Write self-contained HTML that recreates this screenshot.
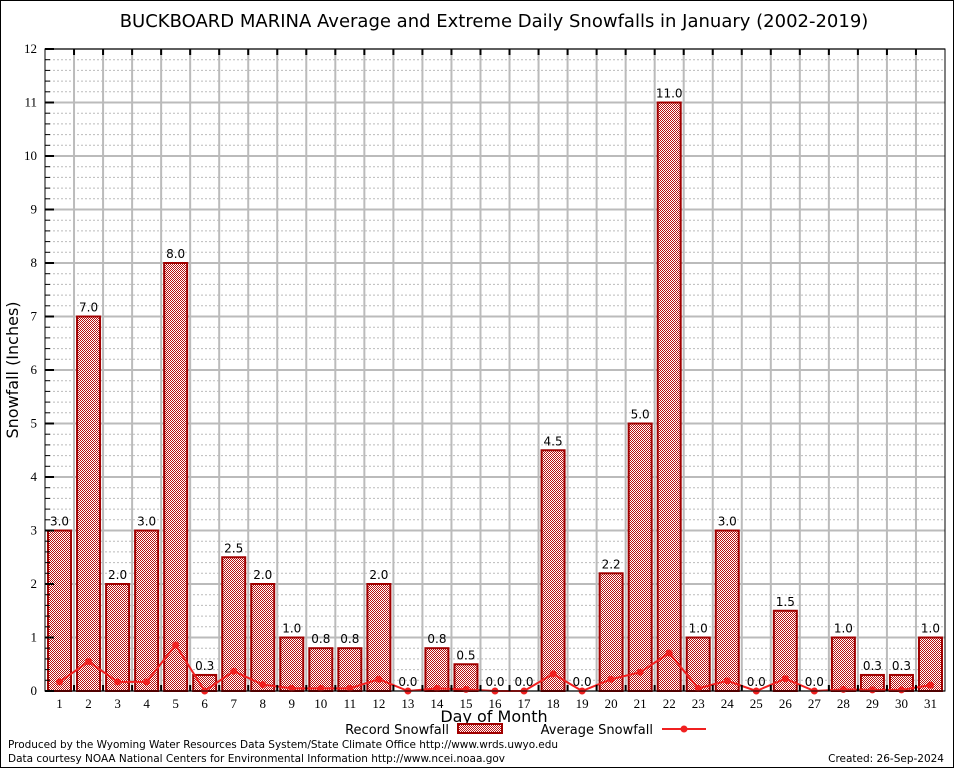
<!DOCTYPE html>
<html><head><meta charset="utf-8"><style>
html,body{margin:0;padding:0;background:#fff}
svg{display:block}
text{font-family:"DejaVu Sans","Liberation Sans",sans-serif}
.ser{font-family:"Liberation Serif","DejaVu Serif",serif}
</style></head><body>
<svg id="chart" width="954" height="768" viewBox="0 0 954 768">
<defs>
<pattern id="chk" width="2" height="2" patternUnits="userSpaceOnUse">
<rect width="2" height="2" fill="#fff"/><rect width="1" height="1" fill="#b81010"/><rect x="1" y="1" width="1" height="1" fill="#b81010"/>
</pattern>
</defs>
<rect x="0.5" y="0.5" width="953" height="767" fill="#fff" stroke="#000"/>
<text x="494" y="27" font-size="18" text-anchor="middle">BUCKBOARD MARINA Average and Extreme Daily Snowfalls in January (2002-2019)</text>
<g id="grid"></g>
<g id="bars"></g>
<g id="line"></g>
<rect x="45" y="49" width="900" height="642" fill="none" stroke="#000" stroke-width="1"/>
<g id="axes"></g>
<text x="18" y="370" font-size="16" text-anchor="middle" transform="rotate(-90 18 370)">Snowfall (Inches)</text>
<text x="494" y="722" font-size="16" text-anchor="middle">Day of Month</text>
<g>
<text x="449" y="734" font-size="13" text-anchor="end">Record Snowfall</text>
<rect x="458" y="724" width="44" height="9" fill="url(#chk)" stroke="#a00000" stroke-width="2"/>
</g>
<g>
<text x="653" y="734" font-size="13" text-anchor="end">Average Snowfall</text>
<line x1="662" y1="729" x2="706" y2="729" stroke="#f02020" stroke-width="2"/>
<circle cx="684" cy="729" r="3.5" fill="#f02020"/>
</g>
<text x="8" y="748" font-size="10.5" textLength="550">Produced by the Wyoming Water Resources Data System/State Climate Office http://www.wrds.uwyo.edu</text>
<text x="8" y="762" font-size="10.5" textLength="497">Data courtesy NOAA National Centers for Environmental Information http://www.ncei.noaa.gov</text>
<text x="944" y="762" font-size="10.5" text-anchor="end">Created: 26-Sep-2024</text>
</svg>
<script>
const days = [1,2,3,4,5,6,7,8,9,10,11,12,13,14,15,16,17,18,19,20,21,22,23,24,25,26,27,28,29,30,31];
const recordSnow = [3.0,7.0,2.0,3.0,8.0,0.3,2.5,2.0,1.0,0.8,0.8,2.0,0.0,0.8,0.5,0.0,0.0,4.5,0.0,2.2,5.0,11.0,1.0,3.0,0.0,1.5,0.0,1.0,0.3,0.3,1.0];
const avgSnow = [0.17,0.55,0.17,0.17,0.86,0.0,0.37,0.12,0.05,0.05,0.05,0.22,0.0,0.05,0.03,0.0,0.0,0.32,0.0,0.22,0.35,0.71,0.05,0.19,0.0,0.23,0.0,0.03,0.02,0.02,0.11];
const yTicks = [0,1,2,3,4,5,6,7,8,9,10,11,12];
const L=45,R=945,T=49,B=691,yMax=12;
const bw=(R-L)/days.length;
const xs=d=>L+(d-0.5)*bw;
const ys=v=>B-v/yMax*(B-T);
const NS='http://www.w3.org/2000/svg';
function mk(tag,attrs,parent,txt){const e=document.createElementNS(NS,tag);for(const k in attrs)e.setAttribute(k,attrs[k]);if(txt!==undefined)e.textContent=txt;parent.appendChild(e);return e;}
const grid=document.getElementById('grid'),bars=document.getElementById('bars'),line=document.getElementById('line'),axes=document.getElementById('axes');
for(let v=0.2;v<yMax;v+=0.2){const y=ys(v);if(Math.abs(v-Math.round(v))<0.01)continue;
const g=mk('line',{x1:L,x2:R,y1:y,y2:y,stroke:'#bbb','stroke-width':1,'stroke-dasharray':'2,2'},grid);


const t=mk('line',{x1:L,x2:L+5,y1:y,y2:y,stroke:'#000'},axes);

}
yTicks.forEach(v=>{const y=ys(v);
const g=mk('line',{x1:L,x2:R,y1:y,y2:y,stroke:'#bbb','stroke-width':2},grid);


const t=mk('line',{x1:L,x2:L+9,y1:y,y2:y,stroke:'#000','stroke-width':2},axes);


const lb=mk('text',{x:37,y:y+4,'font-size':13,'text-anchor':'end',class:'ser'},axes,String(v));

});
for(let i=1;i<days.length;i++){const x=L+i*bw;
const g=mk('line',{x1:x,x2:x,y1:T,y2:B,stroke:'#bbb','stroke-width':2},grid);


const t1=mk('line',{x1:x,x2:x,y1:T,y2:T+6,stroke:'#000','stroke-width':2},axes);


const t2=mk('line',{x1:x,x2:x,y1:B,y2:B-6,stroke:'#000','stroke-width':2},axes);

}
days.forEach((d,i)=>{const v=recordSnow[i],x=xs(d),y=ys(v);
if(v>0){const r=mk('rect',{x:x-11.5,y:y,width:23,height:B-y,fill:'url(#chk)',stroke:'#a00000','stroke-width':2},bars);

}
const lb=mk('text',{x:x,y:y-5,'font-size':12,'text-anchor':'middle'},bars,v.toFixed(1));


const xl=mk('text',{x:x,y:708,'font-size':13,'text-anchor':'middle',class:'ser'},axes,String(d));

});
const pts=days.map((d,i)=>xs(d)+','+ys(avgSnow[i])).join(' ');
const pl=mk('polyline',{points:pts,fill:'none',stroke:'#f02020','stroke-width':2},line);


days.forEach((d,i)=>{const c=mk('circle',{cx:xs(d),cy:ys(avgSnow[i]),r:3.5,fill:'#f02020'},line);

});
</script>
</body></html>
